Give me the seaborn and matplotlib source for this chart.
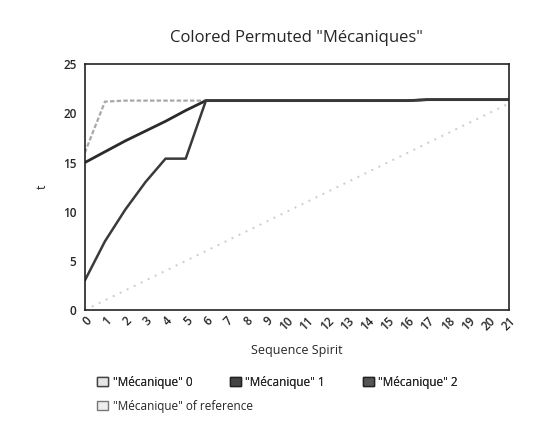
import pandas as pd
import matplotlib.pyplot as plt
import seaborn as sns
from matplotlib.patches import Patch

# values
steps = list(range(22))
meca_0 = [16.0, 21.2, 21.3, 21.3, 21.3, 21.3, 21.3, 21.3, 21.3, 21.3, 21.3,
          21.3, 21.3, 21.3, 21.3, 21.3, 21.3, 21.4, 21.4, 21.4, 21.4, 21.4]
meca_1 = [15.0, 16.1, 17.2, 18.2, 19.2, 20.3, 21.3, 21.3, 21.3, 21.3, 21.3,
          21.3, 21.3, 21.3, 21.3, 21.3, 21.3, 21.4, 21.4, 21.4, 21.4, 21.4]
meca_2 = [3.0, 7.0, 10.2, 13.0, 15.4, 15.4, 21.3, 21.3, 21.3, 21.3, 21.3,
          21.3, 21.3, 21.3, 21.3, 21.3, 21.3, 21.4, 21.4, 21.4, 21.4, 21.4]
meca_ref = [0, 1, 2, 3, 4, 5, 6, 7, 8, 9, 10, 11, 12, 13, 14, 15, 16, 17, 18,
            19, 20, 21]

series_names = ['"Mécanique" 0', '"Mécanique" 1', '"Mécanique" 2',
                '"Mécanique" of reference']

sns.set_theme(style="white")
plt.rcParams['font.family'] = ['Open Sans', 'DejaVu Sans']

df = pd.DataFrame({
    "step": steps * 4,
    "t": meca_0 + meca_1 + meca_2 + meca_ref,
    "series": sum([[name] * len(steps) for name in series_names], []),
})

palette = {
    series_names[0]: "#a8a8a8",
    series_names[1]: "#2a2a2a",
    series_names[2]: "#3a3a3a",
    series_names[3]: "#cccccc",
}
dashes = {
    series_names[0]: (2, 1),
    series_names[1]: "",
    series_names[2]: "",
    series_names[3]: (1, 3),
}
widths = {series_names[0]: 1.6, series_names[1]: 2.0,
          series_names[2]: 1.8, series_names[3]: 1.4}

fig = plt.figure(figsize=(5.47, 4.43), dpi=100)
ax = fig.add_axes([0.155, 0.30, 0.775, 0.555])

for name in series_names:
    sub = df[df["series"] == name]
    sns.lineplot(data=sub, x="step", y="t", ax=ax, color=palette[name],
                 dashes=False, linewidth=widths[name], legend=False)
    line = ax.lines[-1]
    if dashes[name]:
        line.set_dashes(dashes[name])

ax.set_xlim(0, 21)
ax.set_ylim(0, 25)
ax.set_xticks(steps)
ax.set_xticklabels([str(s) for s in steps], rotation=45, ha="right",
                   rotation_mode="anchor", fontsize=8.5, fontweight="semibold")
ax.set_yticks([0, 5, 10, 15, 20, 25])
for lab in ax.get_yticklabels():
    lab.set_fontweight("semibold")
ax.tick_params(axis="y", labelsize=8.5, length=0, pad=6)
ax.tick_params(axis="x", length=0, pad=3)
for spine in ax.spines.values():
    spine.set_color("#222222")
    spine.set_linewidth(1.2)

ax.set_title('Colored Permuted "Mécaniques"', fontsize=12, pad=16,
             fontweight="medium")
ax.set_xlabel("Sequence Spirit", fontsize=9, labelpad=8)
ax.set_ylabel("t", fontsize=9, rotation=90, labelpad=10)

handles = [
    Patch(facecolor="#e6e6e6", edgecolor="#444444", label=series_names[0]),
    Patch(facecolor="#444444", edgecolor="#222222", label=series_names[1]),
    Patch(facecolor="#555555", edgecolor="#222222", label=series_names[2]),
    Patch(facecolor="#eeeeee", edgecolor="#777777", label=series_names[3]),
]
leg_kw = dict(frameon=False, fontsize=8.5, handlelength=0.9, handleheight=0.9,
              handletextpad=0.4, borderaxespad=0, borderpad=0)
leg1 = fig.legend(handles=handles[:3], loc="upper left",
                  bbox_to_anchor=(0.178, 0.152), ncol=3, columnspacing=3.2,
                  **leg_kw)
fig.add_artist(leg1)
fig.legend(handles=handles[3:], loc="upper left",
           bbox_to_anchor=(0.178, 0.098), **leg_kw)

fig.savefig("out.png", dpi=100)
